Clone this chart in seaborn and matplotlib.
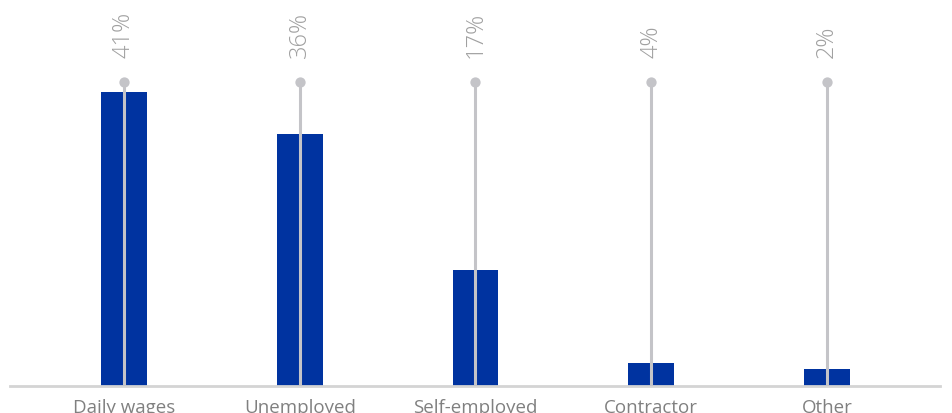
import matplotlib
matplotlib.use("Agg")
import matplotlib.pyplot as plt
import seaborn as sns
import pandas as pd

categories = ["Daily wages", "Unemployed", "Self-employed", "Contractor", "Other"]
values = [41.0, 35.1, 16.2, 3.2, 2.4]
labels = ["41%", "36%", "17%", "4%", "2%"]

sns.set_theme(style="white")
plt.rcParams['font.family'] = ['Open Sans', 'DejaVu Sans']

df = pd.DataFrame({"cat": categories, "val": values})

fig = plt.figure(figsize=(9.52, 4.14), dpi=100)
ax = fig.add_axes([10/952, 27/414, 930/952, 387/414])

sns.barplot(data=df, x="cat", y="val", color="#0033A0", width=0.26,
            saturation=1, ax=ax, linewidth=0)

stem_top = 42.4
label_y = 45.9
xs = list(range(len(categories)))
ax.vlines(xs, 0, stem_top, color="#C4C4C8", lw=2.2, zorder=3)
ax.scatter(xs, [stem_top]*len(xs), s=55, color="#C4C4C8", zorder=4, linewidths=0)
for x, lab in zip(xs, labels):
    ax.text(x, label_y, lab, rotation=90, ha="center", va="bottom",
            fontsize=17, color="#A0A0A0", fontweight="light")

ax.set_xlim(-0.649, 4.644)
ax.set_ylim(0, 54)
ax.set_xlabel("")
ax.set_ylabel("")
ax.set_yticks([])
for s in ["top", "right", "left"]:
    ax.spines[s].set_visible(False)
ax.spines["bottom"].set_color("#D4D4D4")
ax.spines["bottom"].set_linewidth(2)
ax.tick_params(axis="x", length=0, pad=9, labelsize=13.5, labelcolor="#808080")

fig.savefig("out.png", dpi=100)
